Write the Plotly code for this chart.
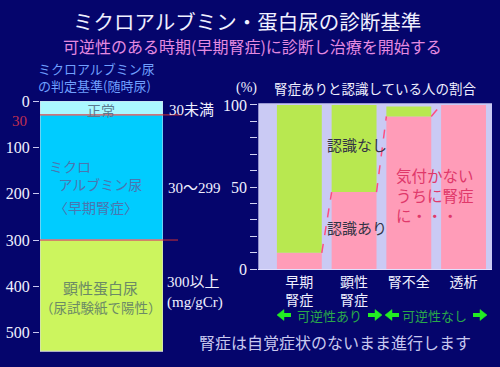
import plotly.graph_objects as go

# ---------- data ----------
# left: urinary albumin criteria (mg/gCr)
seg_names = ["正常", "ミクロアルブミン尿", "顕性蛋白尿"]
seg_lower = [0, 30, 300]
seg_upper = [30, 300, 540]
left_ticks = [0, 100, 200, 300, 400, 500]

# right: share of people aware of their nephropathy (%)
stages = ["早期<br>腎症", "顕性<br>腎症", "腎不全", "透析"]
aware = [10, 47, 93, 100]
unaware = [90, 53, 6, 0]
right_ticks = [0, 10, 20, 30, 40, 50, 60, 70, 80, 90, 100]
right_tick_labels = ["0", "", "", "", "", "50", "", "", "", "", "100"]

# ---------- styling ----------
W, H = 500, 367
BG = "#05056c"
JP = "Noto Sans CJK JP"
SERIF = "Liberation Serif, Noto Sans CJK JP"
seg_colors = ["#aaf8ff", "#00ccff", "#ccf55e"]
ARROW_C = "#22ee22"


def px(x):
    return x / W


def py(y):
    return 1 - y / H


fig = go.Figure()

for lo, hi, c, n in zip(seg_lower, seg_upper, seg_colors, seg_names):
    fig.add_trace(go.Bar(
        x=[0], y=[hi - lo], base=[lo], width=[1], name=n,
        marker=dict(color=c, line=dict(color="#d8d8e8", width=1)),
        xaxis="x", yaxis="y", hoverinfo="skip", showlegend=False))

BAR_W = 0.82
fig.add_trace(go.Bar(
    x=list(range(len(stages))), y=aware, base=[0] * len(stages), width=BAR_W,
    marker=dict(color="#ff9cb8", line=dict(width=0)), name="認識あり",
    xaxis="x2", yaxis="y2", hoverinfo="skip", showlegend=False))
fig.add_trace(go.Bar(
    x=list(range(len(stages))), y=unaware, base=aware, width=BAR_W,
    marker=dict(color="#b8e850", line=dict(width=0)), name="認識なし",
    xaxis="x2", yaxis="y2", hoverinfo="skip", showlegend=False))

shapes = [
    dict(type="rect", xref="x2 domain", yref="y2 domain", x0=0, x1=1, y0=0, y1=1,
         fillcolor="#cacaf4", line=dict(width=0), layer="below"),
]
# red boundary lines on left chart
for v, xe in [(seg_upper[0], 182), (seg_upper[1], 178)]:
    shapes.append(dict(type="line", xref="paper", yref="y", x0=px(40), x1=px(xe),
                       y0=v, y1=v, line=dict(color="#d03030", width=1)))
# dashed connectors between bars
for i in range(len(stages) - 1):
    shapes.append(dict(type="line", xref="x2", yref="y2",
                       x0=i + BAR_W / 2, y0=aware[i],
                       x1=i + 1 - BAR_W / 2, y1=aware[i + 1],
                       line=dict(color="#ff4d80", width=1.5, dash="dash")))

# green reversibility arrows (decorative shapes)
AY = 315
for head, tail in [(277, 291), (382, 368), (385, 399), (487, 473)]:
    d = 1 if tail > head else -1
    base = head + d * 7
    shapes.append(dict(type="line", xref="paper", yref="paper",
                       x0=px(base), x1=px(tail), y0=py(AY), y1=py(AY),
                       line=dict(color=ARROW_C, width=4)))
    path = "M {} {} L {} {} L {} {} Z".format(
        px(head), py(AY), px(base), py(AY - 5.5), px(base), py(AY + 5.5))
    shapes.append(dict(type="path", xref="paper", yref="paper", path=path,
                       fillcolor=ARROW_C, line=dict(color=ARROW_C, width=0.5)))

ann = []


def T(text, x, y, size, color, xanchor="center", family=JP, yanchor="middle", align="left"):
    ann.append(dict(text=text, x=px(x), y=py(y), xref="paper", yref="paper",
                    xanchor=xanchor, yanchor=yanchor, showarrow=False, align=align,
                    font=dict(family=family, size=size, color=color)))


NB = "\u00a0"
T("ミクロアルブミン・蛋白尿の診断基準", 247, 21, 20.5, "#f0f0ff")
T("可逆性のある時期(早期腎症)に診断し治療を開始する", 252, 46, 16, "#e48ae0")
T("ミクロアルブミン尿<br>の判定基準(随時尿)", 36, 77, 13, "#70a0ff", xanchor="left")
T("(%)", 234, 88, 14, "#f0f0ff", xanchor="left", family=SERIF)
T("腎症ありと認識している人の割合", 272, 88, 13.5, "#f0f0ff", xanchor="left")

# inside left bar
T("正常", 101, 110, 14, "#5a7a90")
T("ミクロ<br>" + NB * 3 + "アルブミン尿", 47, 175, 14, "#4a76b0", xanchor="left")
T("〈早期腎症〉", 52, 207, 14, "#4a76b0", xanchor="left")
T("顕性蛋白尿", 100, 287, 15, "#6b8a66")
T("（尿試験紙で陽性）", 101, 307, 13.5, "#6b8a66")
T("30", 29, 121, 15, "#c03050", xanchor="right", family=SERIF)

# right of left bar
T("30未満", 167, 110, 15, "#f0f0ff", xanchor="left", family=SERIF)
T("30～299", 166, 188, 15, "#f0f0ff", xanchor="left", family=SERIF)
T("300以上<br>(mg/gCr)", 165, 292, 15, "#f0f0ff", xanchor="left", family=SERIF)

# right chart texts
T("認識なし", 325, 145, 15, "#333344", xanchor="left")
T("認識あり", 325, 227, 15, "#333344", xanchor="left")
T("気付かない<br>うちに腎症<br>に・・・", 394, 195, 15.5, "#e0386a", xanchor="left")

T("可逆性あり", 329, AY, 13, "#2aa84a")
T("可逆性なし", 434, AY, 13, "#2aa84a")

T("腎症は自覚症状のないまま進行します", 335, 342, 16, "#c8c8ee")

fig.update_layout(
    width=W, height=H, margin=dict(l=0, r=0, t=0, b=0, pad=0, autoexpand=False),
    paper_bgcolor=BG, plot_bgcolor="rgba(0,0,0,0)",
    barmode="overlay", showlegend=False,
    shapes=shapes, annotations=ann,
    xaxis=dict(domain=[px(40), px(163)], range=[-0.5, 0.5], visible=False,
               anchor="y", fixedrange=True, automargin=False),
    yaxis=dict(domain=[py(360.5), py(101)], range=[560, 0], anchor="x",
               tickvals=left_ticks, ticks="outside", ticklen=6, tickcolor="#c8c8f0",
               showgrid=False, zeroline=False, showline=False, automargin=False,
               tickfont=dict(family=SERIF, size=16, color="#f0f0ff")),
    xaxis2=dict(domain=[px(258.3), px(492)], range=[-0.75, 3.52], anchor="y2",
                tickvals=list(range(len(stages))), ticktext=stages,
                showgrid=False, zeroline=False, showline=True, automargin=False,
                linecolor="#e0e0ff", linewidth=1, ticks="",
                tickfont=dict(family=JP, size=14, color="#f0f0ff")),
    yaxis2=dict(domain=[py(269.3), py(103.3)], range=[0, 101], anchor="x2",
                tickvals=right_ticks, ticktext=right_tick_labels,
                ticks="outside", ticklen=7, tickcolor="#d0d0f0",
                showgrid=False, zeroline=False, showline=False, automargin=False,
                tickfont=dict(family=SERIF, size=16, color="#f0f0ff")),
)

fig.write_html("out.html",
               config={"displayModeBar": False},
               post_script="document.body.style.margin='0px';"
                           "document.body.style.overflow='hidden';"
                           "document.body.style.background='" + BG + "';")
